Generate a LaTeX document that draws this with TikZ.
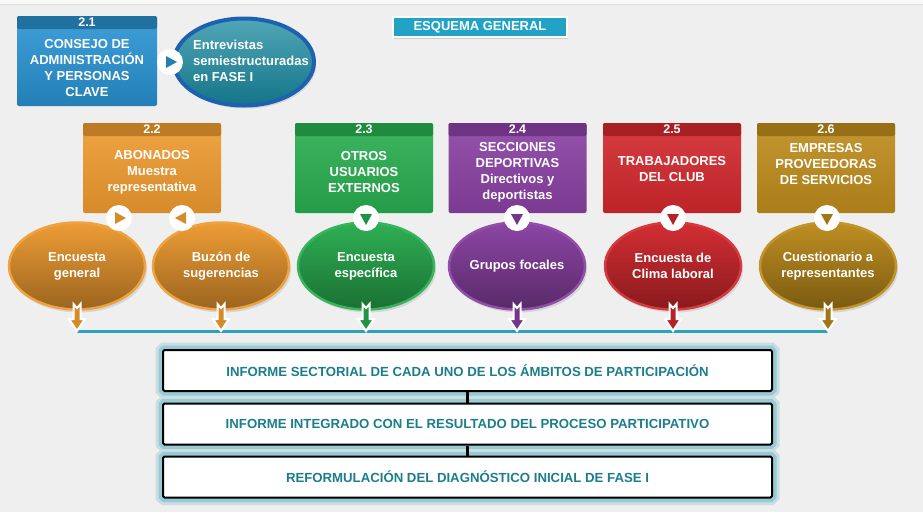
\documentclass[tikz,border=0pt]{standalone}
\usepackage{fontspec}
\setmainfont{Liberation Sans}
\usetikzlibrary{shapes.geometric,shadows}
\definecolor{fondo}{HTML}{EFEFEF}
\definecolor{azul}{HTML}{2A95D6}
\definecolor{azulelipse}{HTML}{17899F}
\definecolor{azulborde}{HTML}{1D62B0}
\definecolor{naranja}{HTML}{EE9A2F}
\definecolor{verde}{HTML}{28AD4F}
\definecolor{morado}{HTML}{8940A2}
\definecolor{rojo}{HTML}{D2282D}
\definecolor{oro}{HTML}{BD8B1B}
\definecolor{turquesa}{HTML}{22A3C5}
\definecolor{lineaazul}{HTML}{2CA1BA}
\definecolor{textoinforme}{HTML}{1C7D8C}
\definecolor{brillo}{HTML}{98CAD4}
\tikzset{
  caja/.style={minimum width=138pt,minimum height=90pt,inner sep=0pt,rounded corners=2pt},
  cabecera/.style={anchor=north,minimum width=138pt,minimum height=13pt,inner sep=0pt,
    rounded corners=2pt,text=white,font=\bfseries\fontsize{12.5}{12.5}\selectfont},
  textocaja/.style={align=center,text=white,inner sep=0pt},
  elipse/.style={ellipse,minimum width=136pt,minimum height=87pt,inner sep=0pt,line width=2.5pt,
    align=center,text=white,drop shadow={shadow xshift=2pt,shadow yshift=-3pt,opacity=.22}},
  marcacirc/.style={circle,fill=white,minimum size=26pt,inner sep=0pt},
  informe/.style={draw=black,line width=2pt,fill=white,minimum width=609pt,minimum height=41pt,
    rounded corners=1.5pt,text=textoinforme,font=\bfseries\fontsize{13.2}{13.2}\selectfont,
    preaction={draw=brillo!45!fondo,line width=15pt},
    preaction={draw=brillo,line width=9pt}},
  enlace/.style={draw=black,line width=2.5pt},
  linea/.style={draw=lineaazul,line width=3pt},
  titulo/.style={fill=turquesa,draw=white,line width=2pt,text=white,minimum width=174pt,
    minimum height=20pt,inner sep=0pt,font=\bfseries\fontsize{13}{13}\selectfont,
    drop shadow={shadow xshift=1pt,shadow yshift=-1.5pt,opacity=.3}}
}
\newcommand{\grupo}[6]{%
  \node[caja,top color=#4!90!white,bottom color=#4!90!black] (#2) at (#1,168) {};
  \node[cabecera,fill=#4!80!black] (#2h) at (#2.north) {#3};
  \node[textocaja] (#2t) at (#1,#6) {#5};
}
\newcommand{\tecnica}[4]{%
  \node[elipse,draw=#3!92!white,top color=#3!97!white,bottom color=#3!65!black] (#1) at (#2,266) {#4};
}
\newcommand{\marca}[4]{%
  \node[marcacirc] (#1) at (#2) {};
  \begin{scope}[shift={(#1.center)},rotate=#4]
    \fill[#3] (-4,-6) -- (-4,6) -- (7,0) -- cycle;
  \end{scope}
}
\newcommand{\flecha}[3]{%
  \coordinate (#1) at (#2.south |- base);
  \begin{scope}[shift={(#1)}]
    \filldraw[fill=#3,draw=white,line width=2pt] (0,0) -- (-8,-12) -- (-3.5,-12) -- (-3.5,-27)
      -- (0,-23) -- (3.5,-27) -- (3.5,-12) -- (8,-12) -- cycle;
  \end{scope}
}

\begin{document}
\begin{tikzpicture}[x=1pt,y=-1pt,font=\bfseries\fontsize{13}{16}\selectfont]
  \fill[fondo] (0,0) rectangle (923,512);
  \useasboundingbox (0,0) rectangle (923,512);
  \fill[white!60!fondo] (0,0) rectangle (923,4);
  \draw[black!12] (0,4.5) -- (923,4.5);
  \node[titulo] (titulo) at (480,27) {ESQUEMA GENERAL};
  % 2.1
  \node[caja,minimum width=140pt,top color=azul!90!white,bottom color=azul!85!black] (c21) at (87,61) {};
  \node[cabecera,minimum width=140pt,fill=azul!75!black] (c21h) at (c21.north) {2.1};
  \node[textocaja] (c21t) at (87,68) {CONSEJO DE\\ADMINISTRACIÓN\\Y PERSONAS\\CLAVE};
  \node[elipse,minimum width=140pt,draw=azulborde,line width=4pt,
    top color=azulelipse!75!white,bottom color=azulelipse!85!black] (e21) at (244,62) {};
  \node[textocaja,align=left] (e21t) at (251,61) {Entrevistas\\semiestructuradas\\en FASE I};
  \marca{m21}{170,62}{azul!85!black}{0}
  % 2.2 - 2.6
  \grupo{152}{c22}{2.2}{naranja}{ABONADOS\\Muestra\\representativa}{172}
  \grupo{364}{c23}{2.3}{verde}{OTROS\\USUARIOS\\EXTERNOS}{172}
  \grupo{517.5}{c24}{2.4}{morado}{SECCIONES\\DEPORTIVAS\\Directivos y\\deportistas}{172}
  \grupo{672}{c25}{2.5}{rojo}{TRABAJADORES\\DEL CLUB}{169}
  \grupo{826}{c26}{2.6}{oro}{EMPRESAS\\PROVEEDORAS\\DE SERVICIOS}{164}
  \tecnica{e1}{77}{naranja}{Encuesta\\general}
  \tecnica{e2}{221}{naranja}{Buzón de\\sugerencias}
  \tecnica{e3}{366}{verde}{Encuesta\\específica}
  \tecnica{e4}{517}{morado}{Grupos focales}
  \tecnica{e5}{673}{rojo}{Encuesta de\\Clima laboral}
  \tecnica{e6}{828}{oro}{Cuestionario a\\representantes}
  \marca{m1}{119,218}{naranja!90!black}{0}
  \marca{m2}{182,218}{naranja!90!black}{180}
  \marca{m3}{366,218}{verde!85!black}{-90}
  \marca{m4}{517,218}{morado!85!black}{-90}
  \marca{m5}{673,218}{rojo!85!black}{-90}
  \marca{m6}{827,218}{oro!85!black}{-90}
  % salida hacia el informe
  \coordinate (base) at (0,331);
  \draw[linea] (e1.south |- base) -- (e6.south |- base);
  \flecha{t1}{e1}{naranja!90!black}
  \flecha{t2}{e2}{naranja!90!black}
  \flecha{t3}{e3}{verde!85!black}
  \flecha{t4}{e4}{morado!85!black}
  \flecha{t5}{e5}{rojo!85!black}
  \flecha{t6}{e6}{oro!85!black}
  % informes
  \node[informe] (inf1) at (467.5,370.5) {INFORME SECTORIAL DE CADA UNO DE LOS ÁMBITOS DE PARTICIPACIÓN};
  \node[informe] (inf2) at (467.5,424) {INFORME INTEGRADO CON EL RESULTADO DEL PROCESO PARTICIPATIVO};
  \node[informe] (inf3) at (467.5,477) {REFORMULACIÓN DEL DIAGNÓSTICO INICIAL DE FASE I};
  \draw[enlace] (inf1) -- (inf2);
  \draw[enlace] (inf2) -- (inf3);
\end{tikzpicture}
\end{document}
